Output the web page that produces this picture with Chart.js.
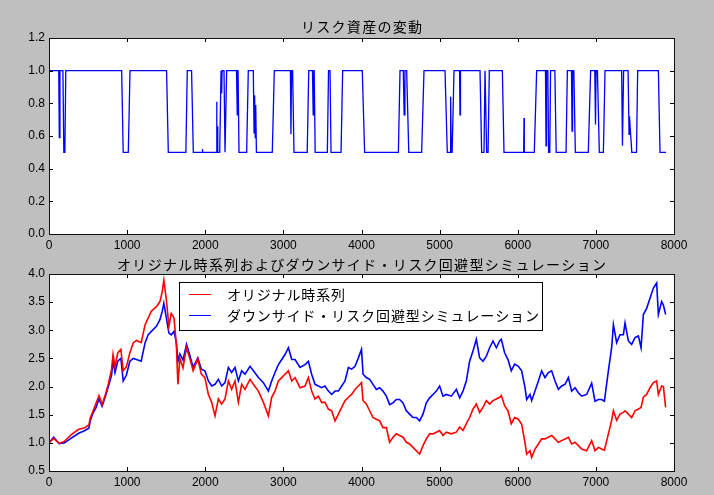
<!DOCTYPE html>
<html>
<head>
<meta charset="utf-8">
<script src="https://cdn.jsdelivr.net/npm/chart.js@4.4.0/dist/chart.umd.min.js"></script>
<style>
html, body { margin: 0; padding: 0; background: #bfbfbf; }
#wrap { position: relative; width: 714px; height: 495px; background: #bfbfbf; }
canvas { position: absolute; left: 0; }
#riskChart { top: 0; }
#simChart { top: 250px; }
</style>
</head>
<body>
<div id="wrap">
  <canvas id="riskChart" width="714" height="250"></canvas>
  <canvas id="simChart" width="714" height="245"></canvas>
</div>
<script>
// タイトル・凡例
const riskTitle = 'リスク資産の変動';
const simTitle = 'オリジナル時系列およびダウンサイド・リスク回避型シミュレーション';
const origLabel = 'オリジナル時系列';
const downLabel = 'ダウンサイド・リスク回避型シミュレーション';

// 目盛り
const xTicks = [0, 1000, 2000, 3000, 4000, 5000, 6000, 7000, 8000];
const riskTicks = [0.0, 0.2, 0.4, 0.6, 0.8, 1.0, 1.2];
const simTicks = [0.5, 1.0, 1.5, 2.0, 2.5, 3.0, 3.5, 4.0];

// リスク資産の比率 (上段)
const riskX = [0, 125, 132, 140, 178, 190, 203, 215,
  930, 950, 1015, 1037,
  1505, 1527, 1752, 1770, 1825, 1847,
  1960, 1963, 1967,
  2140, 2146, 2150, 2155, 2160, 2185, 2202, 2210, 2216, 2240, 2253, 2260, 2274,
  2400, 2410, 2416, 2420, 2432,
  2530, 2551, 2615, 2625, 2632, 2640, 2646, 2655,
  2858, 2884, 3090, 3097, 3104, 3118, 3136,
  3305, 3325, 3372, 3382, 3390, 3395, 3407,
  3563, 3578, 3597, 3610,
  3738, 3759, 4010, 4040,
  4472, 4493, 4535, 4546, 4556, 4578, 4605,
  4770, 4800, 5069, 5098, 5137, 5141, 5149, 5160, 5184, 5255, 5261, 5267,
  5517, 5538, 5568, 5581, 5590, 5602, 5620, 5636, 5803, 5824,
  6076, 6080, 6084, 6212, 6242, 6355, 6362, 6368, 6385, 6395, 6410, 6420, 6475, 6492,
  6618, 6635, 6688, 6695, 6702, 6718, 6737,
  6903, 6933, 6986, 6995, 7003, 7020, 7044,
  7096, 7117, 7330, 7340, 7355, 7412, 7425, 7430, 7460, 7520, 7535, 7800, 7821, 7897];
const riskY = [1.0, 1.0, 0.59, 1.0, 1.0, 0.5, 0.5, 1.0,
  1.0, 0.5, 0.5, 1.0,
  1.0, 0.5, 0.5, 1.0, 1.0, 0.5,
  0.5, 0.52, 0.5,
  0.5, 0.81, 0.5, 0.66, 0.5, 0.5, 1.0, 0.86, 1.0, 1.0, 0.5, 0.5, 1.0,
  1.0, 0.73, 1.0, 1.0, 0.5,
  0.5, 1.0, 1.0, 0.62, 0.85, 0.59, 0.79, 0.5,
  0.5, 1.0, 1.0, 0.61, 1.0, 1.0, 0.5,
  0.5, 1.0, 1.0, 0.73, 1.0, 1.0, 0.5,
  0.5, 1.0, 1.0, 0.5,
  0.5, 1.0, 1.0, 0.5,
  0.5, 1.0, 1.0, 0.73, 1.0, 1.0, 0.5,
  0.5, 1.0, 1.0, 0.5, 0.5, 0.84, 0.5, 0.5, 1.0, 1.0, 0.73, 1.0,
  1.0, 0.5, 0.5, 1.0, 1.0, 0.5, 0.5, 1.0, 1.0, 0.5,
  0.5, 0.71, 0.5, 0.5, 1.0, 1.0, 0.54, 1.0, 1.0, 0.5, 0.5, 1.0, 1.0, 0.5,
  0.5, 1.0, 1.0, 0.63, 1.0, 1.0, 0.5,
  0.5, 1.0, 1.0, 0.67, 1.0, 1.0, 0.5,
  0.5, 1.0, 1.0, 0.54, 1.0, 1.0, 0.61, 0.72, 0.5, 0.5, 1.0, 1.0, 0.5, 0.5];

// シミュレーション (下段)
const simX = [0, 60, 130, 200, 290, 380, 460, 510, 530, 560, 600, 640, 680, 720, 760, 800, 820, 845, 880, 920,
  950, 990, 1035, 1080, 1120, 1180, 1230, 1270, 1310, 1375, 1420, 1450, 1470, 1500, 1535, 1565, 1600, 1630, 1650, 1675,
  1715, 1760, 1800, 1845, 1905, 1950, 1995, 2040, 2083, 2125, 2168, 2210, 2253, 2296, 2338, 2381, 2424, 2466, 2509, 2573,
  2616, 2680, 2744, 2808, 2850, 2893, 2936, 2979, 3021, 3064, 3107, 3149, 3213, 3277, 3320, 3362, 3405, 3448, 3490, 3533,
  3576, 3618, 3661, 3704, 3746, 3789, 3832, 3874, 3917, 3960, 4000, 4020, 4062, 4104, 4147, 4190, 4232, 4275, 4318, 4360,
  4403, 4446, 4488, 4531, 4574, 4616, 4659, 4702, 4744, 4787, 4830, 4872, 4915, 4958, 5000, 5043, 5086, 5150, 5214, 5256,
  5299, 5342, 5384, 5427, 5470, 5512, 5555, 5598, 5640, 5683, 5726, 5768, 5790, 5832, 5875, 5917, 5960, 6008, 6050, 6093,
  6114, 6157, 6178, 6221, 6264, 6306, 6349, 6392, 6434, 6477, 6520, 6562, 6605, 6648, 6690, 6733, 6776, 6818, 6882, 6946,
  6989, 7032, 7074, 7109, 7160, 7202, 7224, 7266, 7309, 7352, 7373, 7416, 7458, 7501, 7544, 7578, 7608, 7650, 7693, 7736,
  7778, 7800, 7842, 7864, 7893];
const origY = [1.0, 1.08, 0.99, 1.03, 1.15, 1.24, 1.27, 1.32, 1.45, 1.55, 1.7, 1.84, 1.68, 1.85, 2.05, 2.3, 2.57, 2.35, 2.6, 2.66,
  2.28, 2.35, 2.6, 2.78, 2.82, 2.78, 3.1, 3.22, 3.34, 3.42, 3.51, 3.69, 3.89, 3.57, 3.07, 3.3, 3.22, 2.75, 2.04, 2.5,
  2.33, 2.69, 2.51, 2.28, 2.49, 2.22, 2.16, 1.86, 1.72, 1.48, 1.78, 1.69, 1.78, 2.1, 1.95, 2.1, 1.72, 2.04, 1.95, 2.13,
  2.04, 1.92, 1.72, 1.48, 1.81, 1.92, 2.1, 2.16, 2.22, 2.28, 2.1, 2.16, 1.98, 2.01, 2.16, 1.92, 1.78, 1.83, 1.72, 1.72,
  1.6, 1.57, 1.39, 1.51, 1.63, 1.75, 1.81, 1.86, 1.95, 2.01, 2.07, 1.75, 1.69, 1.57, 1.45, 1.42, 1.39, 1.27, 1.27, 1.01,
  1.1, 1.16, 1.13, 1.1, 1.01, 0.98, 0.92, 0.86, 0.8, 0.95, 1.07, 1.16, 1.16, 1.19, 1.22, 1.13, 1.19, 1.16, 1.19, 1.28,
  1.22, 1.34, 1.45, 1.6, 1.69, 1.54, 1.63, 1.75, 1.69, 1.75, 1.78, 1.81, 1.84, 1.66, 1.57, 1.34, 1.45, 1.42, 1.33, 1.0,
  0.8, 0.86, 0.74, 0.89, 0.98, 1.07, 1.07, 1.1, 1.13, 1.07, 1.01, 1.04, 1.07, 1.1, 0.98, 1.01, 0.95, 0.89, 0.86, 1.04,
  0.86, 0.92, 0.89, 0.87, 1.16, 1.4, 1.57, 1.4, 1.51, 1.54, 1.57, 1.51, 1.45, 1.57, 1.6, 1.63, 1.81, 1.86, 1.98, 2.07,
  2.1, 1.86, 2.01, 2.0, 1.63];
const downY = [1.0, 1.1, 0.985, 1.0, 1.09, 1.17, 1.22, 1.26, 1.4, 1.52, 1.62, 1.78, 1.65, 1.82, 2.0, 2.2, 2.45, 2.25, 2.45, 2.5,
  2.1, 2.2, 2.45, 2.5, 2.48, 2.45, 2.78, 2.92, 2.98, 3.07, 3.19, 3.34, 3.48, 3.24, 2.95, 2.92, 2.98, 2.78, 2.45, 2.58,
  2.47, 2.75, 2.57, 2.34, 2.51, 2.31, 2.28, 2.1, 2.01, 2.04, 2.13, 2.01, 2.07, 2.34, 2.25, 2.34, 2.1, 2.28, 2.22, 2.36,
  2.28, 2.16, 2.07, 1.92, 2.1, 2.25, 2.39, 2.48, 2.57, 2.69, 2.48, 2.48, 2.34, 2.39, 2.45, 2.22, 2.04, 2.01, 1.98, 2.01,
  1.92, 1.86, 1.92, 1.92, 2.01, 2.1, 2.34, 2.31, 2.36, 2.51, 2.66, 2.22, 2.16, 2.13, 2.04, 1.95, 1.98, 1.92, 1.83, 1.68,
  1.71, 1.77, 1.77, 1.71, 1.57, 1.51, 1.45, 1.45, 1.39, 1.51, 1.71, 1.8, 1.86, 1.92, 2.01, 1.83, 1.86, 1.83, 1.95, 1.8,
  1.92, 2.1, 2.45, 2.63, 2.84, 2.51, 2.45, 2.54, 2.69, 2.81, 2.69, 2.81, 2.84, 2.6, 2.48, 2.28, 2.4, 2.36, 2.28, 1.98,
  1.77, 1.86, 1.75, 1.92, 2.1, 2.28, 2.16, 2.25, 2.28, 2.1, 1.95, 2.01, 2.04, 2.16, 1.92, 1.98, 1.89, 1.83, 1.86, 2.06,
  1.74, 1.77, 1.77, 1.74, 2.28, 2.69, 3.1, 2.78, 2.92, 2.92, 3.13, 2.81, 2.75, 2.87, 2.9, 2.69, 3.28, 3.39, 3.57, 3.75,
  3.84, 3.28, 3.51, 3.45, 3.28];

const jpFont = "'Noto Sans CJK JP', 'Noto Sans CJK SC', sans-serif";
const numFont = { family: "'Liberation Sans', Arial, sans-serif", size: 12 };

function spacedText(ctx, text, x, y, width) {
    const chars = Array.from(text);
    const natural = chars.reduce((s, c) => s + ctx.measureText(c).width, 0);
    const gap = chars.length > 1 ? (width - natural) / (chars.length - 1) : 0;
    let cx = x;
    chars.forEach(c => {
        ctx.fillText(c, cx, y);
        cx += ctx.measureText(c).width + gap;
    });
}

// 白い描画領域・枠・内向きの目盛り・タイトル
const framePlugin = {
    id: 'frame',
    beforeDraw(chart) {
        const a = chart.chartArea;
        const ctx = chart.ctx;
        ctx.save();
        ctx.fillStyle = '#ffffff';
        ctx.fillRect(a.left, a.top, a.right - a.left, a.bottom - a.top);
        ctx.restore();
    },
    afterDraw(chart, args, opts) {
        const a = chart.chartArea;
        const ctx = chart.ctx;
        ctx.save();
        ctx.strokeStyle = '#000000';
        ctx.lineWidth = 1;
        ctx.beginPath();
        chart.scales.x.ticks.forEach(t => {
            const px = Math.round(chart.scales.x.getPixelForValue(t.value)) + 0.5;
            ctx.moveTo(px, a.bottom); ctx.lineTo(px, a.bottom - 4);
            ctx.moveTo(px, a.top); ctx.lineTo(px, a.top + 4);
        });
        chart.scales.y.ticks.forEach(t => {
            const py = Math.round(chart.scales.y.getPixelForValue(t.value)) + 0.5;
            ctx.moveTo(a.left, py); ctx.lineTo(a.left + 4, py);
            ctx.moveTo(a.right, py); ctx.lineTo(a.right - 4, py);
        });
        ctx.stroke();
        ctx.strokeStyle = '#111111';
        ctx.strokeRect(Math.round(a.left) + 0.5, Math.round(a.top) + 0.5,
            Math.round(a.right - a.left), Math.round(a.bottom - a.top));

        ctx.fillStyle = '#000000';
        ctx.font = '14px ' + jpFont;
        ctx.textBaseline = 'middle';
        ctx.textAlign = 'left';
        const cx = (a.left + a.right) / 2;
        spacedText(ctx, opts.title, cx - opts.titleWidth / 2, a.top - opts.titleGap, opts.titleWidth);

        if (opts.legend) {
            const lg = opts.legend;
            ctx.fillStyle = '#ffffff';
            ctx.fillRect(lg.x, lg.y, lg.w, lg.h);
            ctx.strokeStyle = '#000000';
            ctx.strokeRect(lg.x + 0.5, lg.y + 0.5, lg.w, lg.h);
            lg.items.forEach((it, i) => {
                const y = lg.y + 12.5 + i * 21;
                ctx.strokeStyle = it.color;
                ctx.beginPath();
                ctx.moveTo(lg.x + 10, y); ctx.lineTo(lg.x + 32, y);
                ctx.stroke();
                ctx.fillStyle = '#000000';
                spacedText(ctx, it.text, lg.x + 48, y, it.width);
            });
        }
        ctx.restore();
    }
};

function axisOpts(ticks, min, max, fmt, fit) {
    return {
        type: 'linear',
        min: min,
        max: max,
        grid: { display: false, drawTicks: false },
        border: { display: false },
        ticks: { color: '#000000', font: numFont, padding: 4, autoSkip: false, maxRotation: 0, callback: fmt },
        afterBuildTicks: s => { s.ticks = ticks.map(v => ({ value: v })); },
        afterFit: fit
    };
}

function pairs(xs, ys) {
    return xs.map((x, i) => ({ x: x, y: ys[i] }));
}

new Chart(document.getElementById('riskChart'), {
    type: 'line',
    data: {
        datasets: [{ data: pairs(riskX, riskY), borderColor: '#0000ff', borderWidth: 1.3, pointRadius: 0, tension: 0 }]
    },
    options: {
        responsive: false,
        animation: false,
        devicePixelRatio: 1,
        layout: { padding: { top: 38, right: 40, left: 0, bottom: 0 } },
        plugins: {
            legend: { display: false },
            tooltip: { enabled: false },
            frame: { title: riskTitle, titleWidth: 121, titleGap: 11 }
        },
        scales: {
            x: axisOpts(xTicks, 0, 8000, v => String(v), s => { s.height = 16; }),
            y: axisOpts(riskTicks, 0, 1.2, v => v.toFixed(1), s => { s.width = 49; })
        }
    },
    plugins: [framePlugin]
});

new Chart(document.getElementById('simChart'), {
    type: 'line',
    data: {
        datasets: [
            { data: pairs(simX, origY), borderColor: '#ff0000', borderWidth: 1.6, pointRadius: 0, tension: 0 },
            { data: pairs(simX, downY), borderColor: '#0000ff', borderWidth: 1.6, pointRadius: 0, tension: 0 }
        ]
    },
    options: {
        responsive: false,
        animation: false,
        devicePixelRatio: 1,
        layout: { padding: { top: 24, right: 40, left: 0, bottom: 0 } },
        plugins: {
            legend: { display: false },
            tooltip: { enabled: false },
            frame: {
                title: simTitle, titleWidth: 489, titleGap: 9,
                legend: {
                    x: 179, y: 32, w: 363, h: 48,
                    items: [
                        { text: origLabel, color: '#ff0000', width: 118 },
                        { text: downLabel, color: '#0000ff', width: 312 }
                    ]
                }
            }
        },
        scales: {
            x: axisOpts(xTicks, 0, 8000, v => String(v), s => { s.height = 24; }),
            y: axisOpts(simTicks, 0.5, 4.0, v => v.toFixed(1), s => { s.width = 49; })
        }
    },
    plugins: [framePlugin]
});
</script>
</body>
</html>
